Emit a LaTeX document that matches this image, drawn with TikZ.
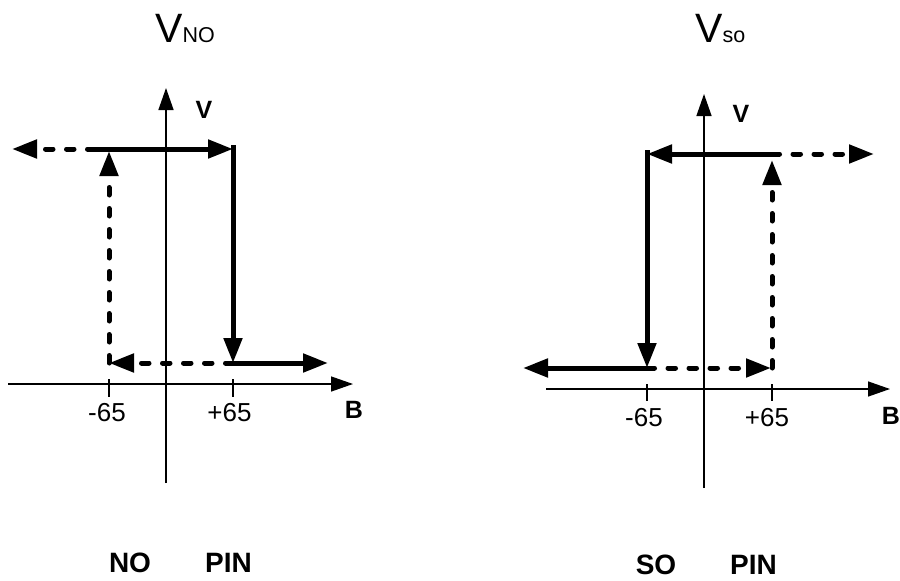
\documentclass[tikz,border=0pt]{standalone}
\usepackage{fontspec}
\setmainfont{Liberation Sans}
\usetikzlibrary{arrows.meta}
\begin{document}
\begin{tikzpicture}[x=1pt,y=-1pt,
  axis/.style={line width=1.4pt,-{Triangle[length=22pt,width=15pt]}},
  tick/.style={line width=1.4pt},
  thick line/.style={line width=5pt},
  bigtip/.style={-{Triangle[length=25pt,width=18pt]}},
  dashline/.style={line width=5pt,line cap=round,dash pattern=on 7.5pt off 13.5pt},
  lab/.style={inner sep=0pt,anchor=base,font=\fontsize{26}{30}\selectfont},
  blab/.style={inner sep=0pt,anchor=base,font=\fontsize{25}{30}\selectfont\bfseries},
  plab/.style={inner sep=0pt,anchor=base,font=\fontsize{28}{32}\selectfont\bfseries},
  title/.style={inner sep=0pt,anchor=base west,font=\fontsize{41}{46}\selectfont}]
\useasboundingbox (0,0) rectangle (900,581);

% ---------------- left graph ----------------
\coordinate (LvB) at (166,483);
\coordinate (LvT) at (166,88);
\coordinate (LhL) at (8,384);
\coordinate (LhR) at (353,384);
\draw[axis] (LvB) -- (LvT);
\draw[axis] (LhL) -- (LhR);
\draw[tick] (109,379) -- (109,397);
\draw[tick] (233,379) -- (233,397);

\coordinate (Ltl) at (12,149);
\coordinate (Lts) at (95,149);
\coordinate (Ltr) at (233,149);
\coordinate (Lbr) at (233,363);
\coordinate (Lbl) at (109,363);
\coordinate (Lbe) at (328,363);
\coordinate (Lup) at (109,151);

\draw[dashline,bigtip] (Lts) -- (Ltl);
\draw[thick line,bigtip] (Lts) -- (Ltr);
\draw[thick line,line cap=rect] (233,147) -- (233,160);
\draw[thick line,bigtip] (Ltr) -- (Lbr);
\draw[thick line,bigtip] (Lbr) -- (Lbe);
\draw[dashline,bigtip] (Lbr) -- (Lbl);
\draw[dashline,bigtip] (Lbl) -- (Lup);

\node[title] (tNO) at (155,42) {V\fontsize{21.5}{24}\selectfont NO};
\node[blab] (LV) at (204,118) {V};
\node[lab] (Lm65) at (107,421) {-65};
\node[lab] (Lp65) at (229.5,421) {+65};
\node[blab] (LB) at (354,418) {B};
\node[plab] (NO) at (130,572) {NO};
\node[plab] (LPIN) at (228.5,572) {PIN};

% ---------------- right graph ----------------
\coordinate (RvB) at (704,488);
\coordinate (RvT) at (704,94);
\coordinate (RhL) at (546,389);
\coordinate (RhR) at (890,389);
\draw[axis] (RvB) -- (RvT);
\draw[axis] (RhL) -- (RhR);
\draw[tick] (647,384) -- (647,401);
\draw[tick] (772,384) -- (772,401);

\coordinate (Rtl) at (647,154);
\coordinate (Rtr) at (772,154);
\coordinate (Rte) at (874,154);
\coordinate (Rbl) at (647,368);
\coordinate (Rbe) at (523,368);
\coordinate (Rbr) at (771,368);
\coordinate (Rbr2) at (772,368);
\coordinate (Rup) at (772,160);

\draw[thick line,bigtip] (Rtr) -- (Rtl);
\draw[dashline,bigtip] (Rtr) -- (Rte);
\draw[thick line,line cap=rect] (647,152) -- (647,165);
\draw[thick line,bigtip] (Rtl) -- (Rbl);
\draw[thick line,bigtip] (Rbl) -- (Rbe);
\draw[dashline,bigtip] (Rbl) -- (Rbr);
\draw[dashline,bigtip] (Rbr2) -- (Rup);

\node[title] (tSO) at (695,42) {V\fontsize{21.5}{24}\selectfont so};
\node[blab] (RV) at (741,122) {V};
\node[lab] (Rm65) at (644,426) {-65};
\node[lab] (Rp65) at (767,426) {+65};
\node[blab] (RB) at (891,424) {B};
\node[plab] (SO) at (656,574) {SO};
\node[plab] (RPIN) at (753.5,574) {PIN};
\end{tikzpicture}
\end{document}
